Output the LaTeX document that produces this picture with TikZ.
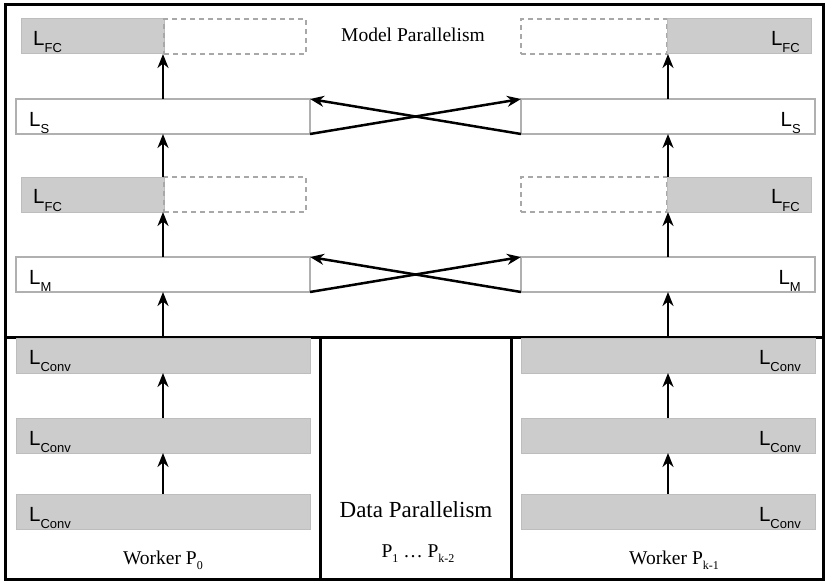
\documentclass[tikz,border=0pt]{standalone}
\usepackage{fontspec}
\setmainfont{Liberation Serif}
\newfontfamily\lsans{Liberation Sans}
\usetikzlibrary{arrows.meta}
\definecolor{boxgray}{HTML}{CCCCCC}
\definecolor{boxedge}{HTML}{BDBDBD}
\definecolor{edgegray}{HTML}{B0B0B0}
\definecolor{dashgray}{HTML}{A8A8A8}
\newcommand{\layer}[1]{{\lsans\fontsize{20.5}{20.5}\selectfont L\raisebox{-7pt}{\fontsize{13}{13}\selectfont #1}}}
\newcommand{\mysub}[1]{\raisebox{-5pt}{\fontsize{12}{12}\selectfont #1}}
\tikzset{
  frame/.style={draw=black, line width=3pt},
  whitebox/.style={draw=edgegray, fill=white, line width=2.2pt, rectangle, inner sep=0pt, outer sep=0pt, anchor=north west, minimum height=35pt},
  graybox/.style={draw=boxedge, fill=boxgray, line width=1pt, rectangle, inner sep=0pt, outer sep=0pt, anchor=north west, minimum height=35pt},
  dashbox/.style={draw=dashgray, dash pattern=on 5pt off 4pt, line width=1.2pt, rectangle, inner sep=0pt, outer sep=0pt, anchor=north west, minimum height=35pt},
  lblw/.style={inner sep=0pt, anchor=base west},
  lble/.style={inner sep=0pt, anchor=base east},
  arr/.style={draw=black, line width=2.5pt, -{Stealth[length=14pt,width=11pt,inset=4.5pt]}},
  title/.style={inner sep=0pt, anchor=base, font=\fontsize{19.5}{20}\selectfont},
}
\begin{document}
\begin{tikzpicture}[x=1pt, y=-1pt]
\useasboundingbox (0,0) rectangle (830,583);
% frames
\draw[frame] (5,5) rectangle (823,337);
\draw[frame] (5,337) rectangle (320,579);
\draw[frame] (320,337) rectangle (511,579);
\draw[frame] (511,337) rectangle (823,579);

% ---------- left column ----------
\node[graybox, minimum width=143pt] (fc1lg) at (21,19) {};
\node[dashbox, minimum width=142pt] (fc1ld) at (164,19) {};
\node[whitebox, minimum width=294pt] (sl) at (16,99) {};
\node[graybox, minimum width=143pt] (fc2lg) at (21,177) {};
\node[dashbox, minimum width=142pt] (fc2ld) at (164,177) {};
\node[whitebox, minimum width=294pt] (ml) at (16,257) {};
\node[graybox, minimum width=294pt] (c1l) at (16,338) {};
\node[graybox, minimum width=294pt] (c2l) at (16,418) {};
\node[graybox, minimum width=294pt] (c3l) at (16,494) {};

\node[lblw] (tfc1l) at (33,46) {\layer{FC}};
\node[lblw] (tsl) at (29,127) {\layer{S}};
\node[lblw] (tfc2l) at (33,204) {\layer{FC}};
\node[lblw] (tml) at (29,284) {\layer{M}};
\node[lblw] (tc1l) at (29,364) {\layer{Conv}};
\node[lblw] (tc2l) at (29,445) {\layer{Conv}};
\node[lblw] (tc3l) at (29,521) {\layer{Conv}};

% ---------- right column ----------
\node[dashbox, minimum width=146pt] (fc1rd) at (521,19) {};
\node[graybox, minimum width=144pt] (fc1rg) at (667,19) {};
\node[whitebox, minimum width=294pt] (sr) at (521,99) {};
\node[dashbox, minimum width=146pt] (fc2rd) at (521,177) {};
\node[graybox, minimum width=144pt] (fc2rg) at (667,177) {};
\node[whitebox, minimum width=294pt] (mr) at (521,257) {};
\node[graybox, minimum width=294pt] (c1r) at (521,338) {};
\node[graybox, minimum width=294pt] (c2r) at (521,418) {};
\node[graybox, minimum width=294pt] (c3r) at (521,494) {};

\node[lble] (tfc1r) at (800,46) {\layer{FC}};
\node[lble] (tsr) at (801,127) {\layer{S}};
\node[lble] (tfc2r) at (800,204) {\layer{FC}};
\node[lble] (tmr) at (801,284) {\layer{M}};
\node[lble] (tc1r) at (801,364) {\layer{Conv}};
\node[lble] (tc2r) at (801,445) {\layer{Conv}};
\node[lble] (tc3r) at (801,521) {\layer{Conv}};

% ---------- vertical arrows ----------
\draw[arr] (c3l.north) -- (c2l.south);
\draw[arr] (c2l.north) -- (c1l.south);
\draw[arr] (c1l.north) -- (ml.south);
\draw[arr] (ml.north) -- (ml.north |- fc2lg.south);
\draw[arr] (sl.south |- fc2lg.north) -- (sl.south);
\draw[arr] (sl.north) -- (sl.north |- fc1lg.south);

\draw[arr] (c3r.north) -- (c2r.south);
\draw[arr] (c2r.north) -- (c1r.south);
\draw[arr] (c1r.north) -- (mr.south);
\draw[arr] (mr.north) -- (mr.north |- fc2rg.south);
\draw[arr] (sr.south |- fc2rg.north) -- (sr.south);
\draw[arr] (sr.north) -- (sr.north |- fc1rg.south);

% ---------- crossing arrows ----------
\draw[arr] (sl.south east) -- (sr.north west);
\draw[arr] (sr.south west) -- (sl.north east);
\draw[arr] (ml.south east) -- (mr.north west);
\draw[arr] (mr.south west) -- (ml.north east);

% ---------- titles ----------
\node[title] (model) at (413,42) {Model Parallelism};
\node[inner sep=0pt, anchor=base, font=\fontsize{23}{24}\selectfont] (data) at (416,517) {Data Parallelism};
\node[title] (w0) at (163,564) {Worker P\mysub{0}};
\node[title] (pmid) at (418,557) {P\mysub{1} \dots\ P\mysub{k-2}};
\node[title] (wk) at (674,564) {Worker P\mysub{k-1}};
\end{tikzpicture}
\end{document}
